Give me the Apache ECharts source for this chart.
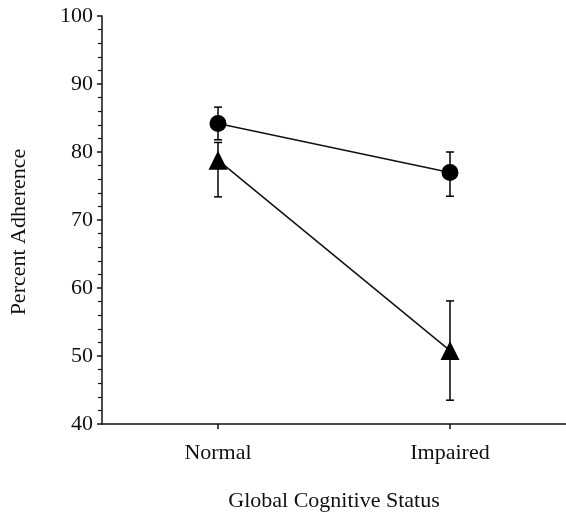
<!DOCTYPE html>
<html>
<head>
<meta charset="utf-8">
<script src="https://cdn.jsdelivr.net/npm/echarts@6/dist/echarts.min.js"></script>
<style>html,body{margin:0;padding:0;background:#fff;}#c{width:566px;height:513px;}</style>
</head>
<body>
<div id="c"></div>
<script>
var categories = ['Normal', 'Impaired'];
var circleMean = [84.2, 77.0];
var circleLow = [81.8, 73.5];
var circleHigh = [86.6, 80.0];
var triangleMean = [78.8, 50.8];
var triangleLow = [73.4, 43.5];
var triangleHigh = [81.4, 58.1];
var yTicks = [40, 50, 60, 70, 80, 90, 100];

var font = 'Liberation Serif, Times New Roman, serif';

function errData(low, high) {
  return categories.map(function (c, i) { return [i, low[i], high[i]]; });
}

function renderErr(params, api) {
  var x = api.value(0);
  var lo = api.coord([x, api.value(1)]);
  var hi = api.coord([x, api.value(2)]);
  var hw = 4;
  var st = { stroke: '#000', lineWidth: 1.5 };
  return {
    type: 'group',
    children: [
      { type: 'line', shape: { x1: lo[0], y1: lo[1], x2: hi[0], y2: hi[1] }, style: st },
      { type: 'line', shape: { x1: lo[0] - hw, y1: lo[1], x2: lo[0] + hw, y2: lo[1] }, style: st },
      { type: 'line', shape: { x1: hi[0] - hw, y1: hi[1], x2: hi[0] + hw, y2: hi[1] }, style: st }
    ]
  };
}

var chart = echarts.init(document.getElementById('c'), null, { renderer: 'canvas' });
chart.setOption({
  animation: false,
  backgroundColor: '#fff',
  grid: { left: 102, right: 0, top: 16, bottom: 89, containLabel: false, outerBoundsMode: 'none' },
  xAxis: {
    type: 'category',
    data: categories,
    boundaryGap: true,
    name: 'Global Cognitive Status',
    nameLocation: 'middle',
    nameGap: 66,
    nameTextStyle: { fontFamily: font, fontSize: 22, color: '#111' },
    axisLine: { lineStyle: { color: '#111', width: 1.5 } },
    axisTick: { show: true, alignWithLabel: true, length: 5, lineStyle: { color: '#111', width: 1.5 } },
    axisLabel: { fontFamily: font, fontSize: 22, color: '#111', margin: 18 },
    splitLine: { show: false }
  },
  yAxis: {
    type: 'value',
    min: yTicks[0],
    max: yTicks[yTicks.length - 1],
    interval: 10,
    name: 'Percent Adherence',
    nameLocation: 'middle',
    nameGap: 72,
    nameTextStyle: { fontFamily: font, fontSize: 22, color: '#111', padding: [0, 24, 0, 0] },
    axisLine: { show: true, lineStyle: { color: '#111', width: 1.5 } },
    axisTick: { show: true, length: 5, lineStyle: { color: '#111', width: 1.5 } },
    minorTick: { show: true, splitNumber: 5, length: 4, lineStyle: { color: '#111', width: 1.2 } },
    axisLabel: { fontFamily: font, fontSize: 22, color: '#111', margin: 9 },
    splitLine: { show: false }
  },
  series: [
    {
      type: 'custom', renderItem: renderErr, data: errData(circleLow, circleHigh),
      encode: { x: 0, y: [1, 2] }, z: 1, silent: true
    },
    {
      type: 'custom', renderItem: renderErr, data: errData(triangleLow, triangleHigh),
      encode: { x: 0, y: [1, 2] }, z: 1, silent: true
    },
    {
      type: 'line', data: circleMean, symbol: 'circle', symbolSize: 17,
      itemStyle: { color: '#000' }, lineStyle: { color: '#111', width: 1.5 }, z: 3
    },
    {
      type: 'line', data: triangleMean, symbol: 'triangle', symbolSize: 19,
      itemStyle: { color: '#000' }, lineStyle: { color: '#111', width: 1.5 }, z: 3
    }
  ]
});
</script>
</body>
</html>
